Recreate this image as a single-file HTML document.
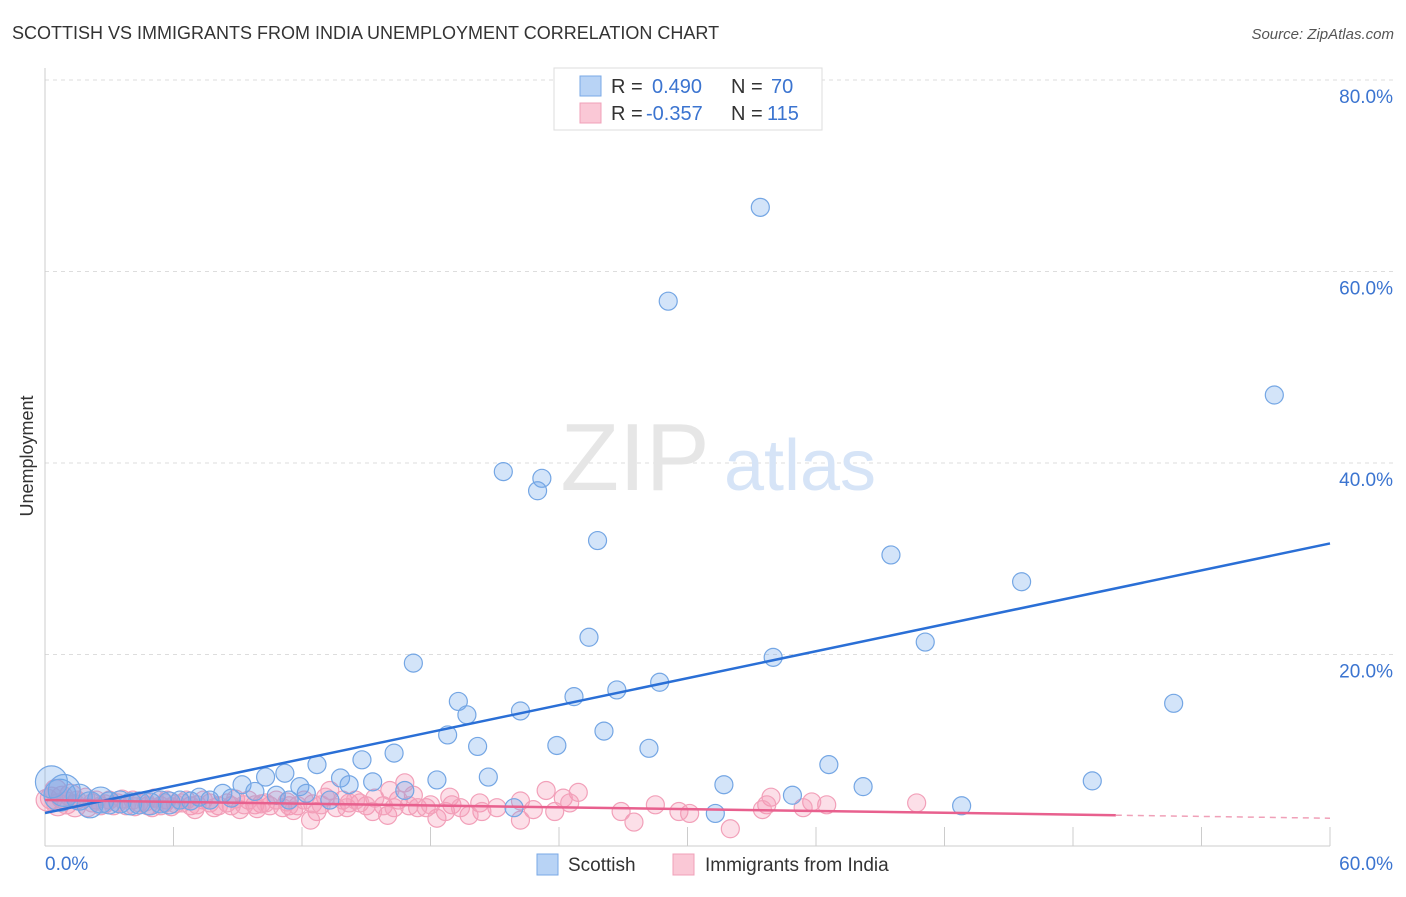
<!DOCTYPE html>
<html><head><meta charset="utf-8"><style>
body{margin:0;background:#fff;font-family:"Liberation Sans",sans-serif;}
svg text{font-family:"Liberation Sans",sans-serif;}
</style></head><body>
<svg id="chart" width="1406" height="892" viewBox="0 0 1406 892" xmlns="http://www.w3.org/2000/svg">
<text x="12" y="39" font-size="18" fill="#333">SCOTTISH VS IMMIGRANTS FROM INDIA UNEMPLOYMENT CORRELATION CHART</text>
<text x="1394" y="39" font-size="15" fill="#555" text-anchor="end" font-style="italic">Source: ZipAtlas.com</text>
<text transform="translate(33,456) rotate(-90)" font-size="18" fill="#333" text-anchor="middle">Unemployment</text>
<g id="grid"></g>
<g><text x="635" y="490" font-size="96" fill="#e6e6e6" font-family="Liberation Serif" text-anchor="middle">ZIP</text><text x="800" y="490" font-size="72" fill="#d6e4f7" text-anchor="middle">atlas</text></g>
<g id="pts"></g>
<g id="lines"></g>
<g>
<rect x="554" y="68" width="268" height="62" fill="#fff" stroke="#ddd"/>
<rect x="580" y="76" width="21" height="20" fill="#b8d3f5" stroke="#7aa8e6"/>
<rect x="580" y="103" width="21" height="20" fill="#fac8d6" stroke="#f0a0b8"/>
<text x="611" y="93" font-size="20" fill="#333">R = </text><text x="652" y="93" font-size="20" fill="#3b74d0">0.490</text>
<text x="731" y="93" font-size="20" fill="#333">N = </text><text x="771" y="93" font-size="20" fill="#3b74d0">70</text>
<text x="611" y="120" font-size="20" fill="#333">R = </text><text x="646" y="120" font-size="20" fill="#3b74d0">-0.357</text>
<text x="731" y="120" font-size="20" fill="#333">N = </text><text x="767" y="120" font-size="20" fill="#3b74d0">115</text>
</g>
<g>
<rect x="537" y="854" width="21" height="21" fill="#b8d3f5" stroke="#7aa8e6"/>
<text x="568" y="871" font-size="19" fill="#333">Scottish</text>
<rect x="673" y="854" width="21" height="21" fill="#fac8d6" stroke="#f0a0b8"/>
<text x="705" y="871" font-size="19" fill="#333">Immigrants from India</text>
</g>
</svg>
<script>
const xTicks=[0,6,12,18,24,30,36,42,48,54,60];
const yTicks=[20,40,60,80];
const blueX=[33.4,29.1,57.4,21.4,23.2,23.0,25.8,39.5,45.6,25.4,41.1,17.2,34.0,28.7,26.7,24.7,19.3,19.7,22.2,18.8,26.1,20.2,23.9,28.2,52.7,14.8,16.3,12.7,36.6,20.7,18.3,13.8,10.3,11.2,15.3,14.2,9.2,8.3,31.7,38.2,48.9,34.9,16.8,11.9,12.2,10.8,9.8,42.8,31.3,21.9,7.2,6.3,5.4,4.4,3.5,2.6,1.6,0.7,0.3,0.9,2.1,3.0,4.0,4.9,5.8,6.8,7.7,8.7,13.3,11.4];
const blueY=[66.7,56.9,47.1,39.1,38.4,37.1,31.9,30.4,27.6,21.8,21.3,19.1,19.7,17.1,16.3,15.6,15.1,13.7,14.1,11.6,12.0,10.4,10.5,10.2,14.9,9.0,9.7,8.5,8.5,7.2,6.9,7.1,7.2,7.6,6.7,6.4,6.4,5.5,6.4,6.2,6.8,5.3,5.8,6.2,5.5,5.3,5.7,4.2,3.4,4.0,5.1,4.8,4.6,4.5,4.6,4.8,5.1,5.3,6.7,5.8,4.3,4.5,4.4,4.4,4.5,4.7,4.8,5.0,4.8,4.8];
const pinkX=[40.7,36.5,35.8,35.4,33.9,33.7,33.5,32.0,30.1,29.6,28.5,27.5,26.9,24.9,24.2,23.4,23.8,24.5,22.8,22.2,22.2,21.1,20.3,20.4,19.8,19.0,18.9,18.3,17.8,17.4,17.2,16.8,16.5,16.1,16.0,15.8,15.4,15.0,14.7,14.2,13.9,13.6,13.3,13.1,12.7,12.5,12.4,12.1,11.8,11.4,11.1,10.8,10.5,10.1,9.8,9.5,9.1,8.7,8.5,8.1,7.7,7.4,7.1,6.8,6.4,6.1,5.7,5.4,5.1,4.8,4.4,4.1,3.8,3.4,3.0,2.6,2.2,1.9,1.5,1.2,0.8,0.5,0.3,0.1,0.6,1.0,1.4,2.0,2.4,2.8,3.2,3.6,4.2,4.7,5.0,5.6,5.9,6.6,7.0,7.9,8.9,9.3,9.9,10.3,11.3,11.6,12.9,14.1,14.5,15.3,16.3,17.0,18.0,18.7,19.4];
const pinkY=[4.5,4.3,4.6,4.0,5.1,4.3,3.8,1.8,3.4,3.6,4.3,2.5,3.6,5.6,5.0,5.8,3.6,4.5,3.8,2.7,4.7,4.0,4.5,3.6,3.2,4.3,5.1,2.9,4.0,4.0,5.3,6.6,4.8,5.8,3.2,4.2,5.0,4.2,4.5,4.5,4.8,4.0,5.8,5.1,3.6,4.4,2.7,4.8,4.2,4.2,4.0,4.8,4.2,4.4,4.3,4.8,3.8,4.2,4.5,4.2,4.5,4.8,4.3,4.2,4.5,4.4,4.8,4.2,5.0,4.2,4.5,4.8,4.2,4.5,4.8,4.2,4.5,5.1,4.8,5.3,5.1,5.8,5.0,4.8,4.3,4.5,4.2,4.0,4.8,4.4,4.2,4.9,4.1,4.6,4.0,4.5,4.1,4.8,3.8,4.0,4.9,4.3,3.9,4.5,4.6,3.7,4.3,4.0,4.8,3.6,4.0,4.2,4.3,3.6,4.0];
const blueTrend=[3.45,31.6];
const pinkTrend=[4.8,2.9];
const NS='http://www.w3.org/2000/svg';
const X=v=>45+v*(1285/60);
const Y=v=>846-v*(766/80);
function mk(tag,attrs,parent){const e=document.createElementNS(NS,tag);for(const k in attrs)e.setAttribute(k,attrs[k]);parent.appendChild(e);return e;}
const grid=document.getElementById('grid');
yTicks.forEach(t=>{const l=mk('line',{x1:45,x2:1394,y1:Y(t),y2:Y(t),stroke:'#ddd','stroke-dasharray':'4,4'},grid);


const tx=mk('text',{x:1393,y:Y(t)+23,'font-size':19,fill:'#3b74d0','text-anchor':'end'},grid);tx.textContent=t.toFixed(1)+'%';

});
mk('line',{x1:45,x2:45,y1:68,y2:846,stroke:'#ccc'},grid);
mk('line',{x1:45,x2:1330,y1:846,y2:846,stroke:'#ccc'},grid);
xTicks.forEach(t=>{const l=mk('line',{x1:X(t),x2:X(t),y1:827,y2:846,stroke:'#ccc'},grid);

});
[[0,'start',45],[60,'end',1393]].forEach(([t,a,px])=>{const tx=mk('text',{x:px,y:870,'font-size':19,fill:'#3b74d0','text-anchor':a},grid);tx.textContent=t.toFixed(1)+'%';

});
const pts=document.getElementById('pts');
pinkX.forEach((x,i)=>{const c=mk('circle',{cx:X(x),cy:Y(pinkY[i]),r:x<1.5?11:9,fill:'rgba(245,150,180,0.3)',stroke:'#f2a0b9','stroke-width':1.2},pts);

});
blueX.forEach((x,i)=>{const c=mk('circle',{cx:X(x),cy:Y(blueY[i]),r:x<1?16:x<3?13:x<6?11:9,fill:'rgba(110,165,235,0.3)',stroke:'#74a6e4','stroke-width':1.2},pts);

});
const lines=document.getElementById('lines');
let l=mk('line',{x1:X(0),y1:Y(blueTrend[0]),x2:X(60),y2:Y(blueTrend[1]),stroke:'#2a6fd6','stroke-width':2.5},lines);


const pAt=v=>pinkTrend[0]+(pinkTrend[1]-pinkTrend[0])*v/60;
l=mk('line',{x1:X(0),y1:Y(pinkTrend[0]),x2:X(50),y2:Y(pAt(50)),stroke:'#e8608e','stroke-width':2.5},lines);


l=mk('line',{x1:X(50),y1:Y(pAt(50)),x2:X(60),y2:Y(pinkTrend[1]),stroke:'#f0a0b8','stroke-width':1.5,'stroke-dasharray':'6,5'},lines);


</script>
</body></html>
